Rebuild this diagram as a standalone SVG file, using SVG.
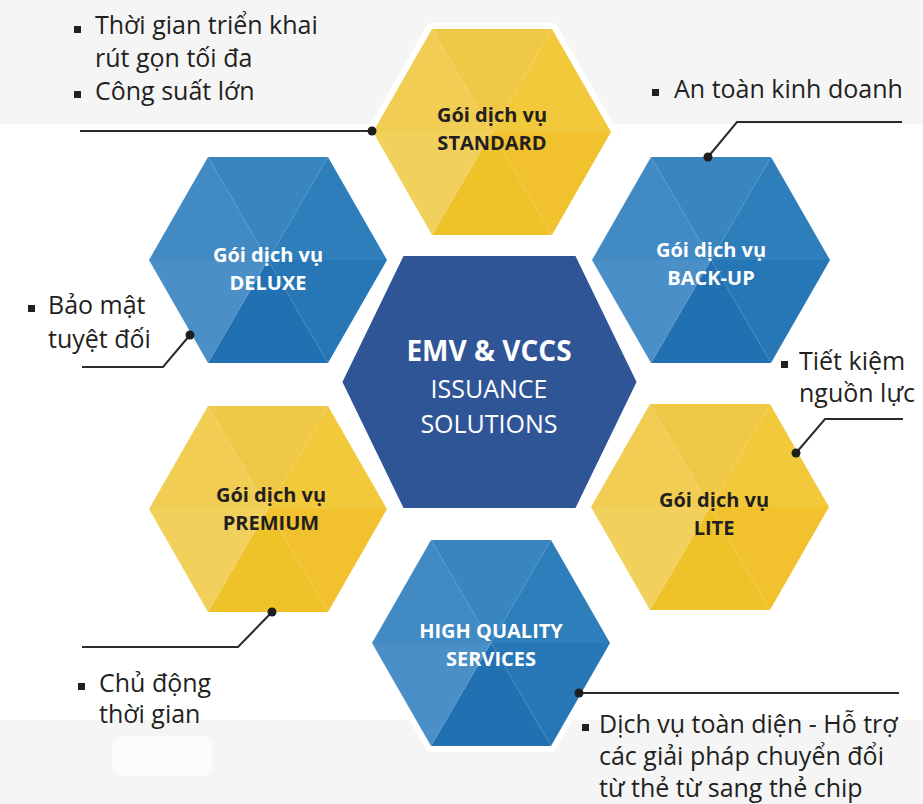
<svg xmlns="http://www.w3.org/2000/svg" xmlns:xlink="http://www.w3.org/1999/xlink" width="923" height="804" viewBox="0 0 923 804">
<style>
.note{font-family:"Open Sans","Noto Sans",sans-serif;font-size:25px;fill:#231f20}
.lbl{font-family:"Open Sans","Noto Sans",sans-serif;font-size:20px;font-weight:700;text-anchor:middle}
.dk{fill:#231f20}
.wt{fill:#ffffff}
.bul{fill:#231f20}
.conn{fill:none;stroke:#2b2b2b;stroke-width:2}
.dot{fill:#1e1e1e}
.halo{fill:#ffffff;stroke:#ffffff;stroke-width:12;stroke-linejoin:round}
</style>
<defs>
<g id="yhex">
<polygon class="halo" points="-119,0 -60,-103 60,-103 119,0 60,103 -60,103"/>
<polygon points="0,0 -119,0 -60,-103" fill="#F1CD54"/>
<polygon points="0,0 -60,-103 60,-103" fill="#F0C847"/>
<polygon points="0,0 60,-103 119,0" fill="#F2C93A"/>
<polygon points="0,0 119,0 60,103" fill="#F1C22D"/>
<polygon points="0,0 60,103 -60,103" fill="#F0C22A"/>
<polygon points="0,0 -60,103 -119,0" fill="#F1D05B"/>
</g>
<g id="bhex">
<polygon class="halo" points="-119,0 -60,-103 60,-103 119,0 60,103 -60,103"/>
<polygon points="0,0 -119,0 -60,-103" fill="#428AC4"/>
<polygon points="0,0 -60,-103 60,-103" fill="#3885C0"/>
<polygon points="0,0 60,-103 119,0" fill="#2E7EBC"/>
<polygon points="0,0 119,0 60,103" fill="#2777B7"/>
<polygon points="0,0 60,103 -60,103" fill="#2070B2"/>
<polygon points="0,0 -60,103 -119,0" fill="#4A8FC7"/>
</g>
</defs>

<rect x="0" y="0" width="923" height="804" fill="#ffffff"/>
<rect x="0" y="0" width="923" height="124" fill="#F5F5F5"/>
<rect x="0" y="720" width="923" height="84" fill="#F5F5F5"/>
<rect x="112" y="736" width="100" height="40" rx="8" fill="#ffffff" opacity="0.6"/>

<g id="center">
<polygon points="401,252 578,252 641,382 578,512 401,512 338,382" fill="#2F5597" stroke="#ffffff" stroke-width="8" stroke-linejoin="round"/>
<text x="489" y="361" font-family="'Open Sans','Noto Sans',sans-serif" font-size="28" font-weight="700" fill="#ffffff" text-anchor="middle">EMV &amp; VCCS</text>
<text x="489" y="398" font-family="'Open Sans','Noto Sans',sans-serif" font-size="25" fill="#ffffff" text-anchor="middle">ISSUANCE</text>
<text x="489" y="433" font-family="'Open Sans','Noto Sans',sans-serif" font-size="25" fill="#ffffff" text-anchor="middle">SOLUTIONS</text>
</g>

<g id="standard">
<use xlink:href="#yhex" href="#yhex" x="492" y="132"/>
<text class="lbl dk" x="492" y="122">Gói dịch vụ</text>
<text class="lbl dk" x="492" y="150">STANDARD</text>
</g>

<g id="deluxe">
<use xlink:href="#bhex" href="#bhex" x="268" y="260"/>
<text class="lbl wt" x="268" y="262">Gói dịch vụ</text>
<text class="lbl wt" x="268" y="290">DELUXE</text>
</g>

<g id="backup">
<use xlink:href="#bhex" href="#bhex" x="711" y="260"/>
<text class="lbl wt" x="711" y="257">Gói dịch vụ</text>
<text class="lbl wt" x="711" y="285">BACK-UP</text>
</g>

<g id="lite">
<use xlink:href="#yhex" href="#yhex" x="710" y="507"/>
<text class="lbl dk" x="714" y="507">Gói dịch vụ</text>
<text class="lbl dk" x="714" y="535">LITE</text>
</g>

<g id="premium">
<use xlink:href="#yhex" href="#yhex" x="268" y="509"/>
<text class="lbl dk" x="271" y="502">Gói dịch vụ</text>
<text class="lbl dk" x="271" y="530">PREMIUM</text>
</g>

<g id="hq">
<use xlink:href="#bhex" href="#bhex" x="491" y="643"/>
<text class="lbl wt" x="491" y="638">HIGH QUALITY</text>
<text class="lbl wt" x="491" y="666">SERVICES</text>
</g>

<g id="connectors">
<polyline class="conn" points="80,131 372,131"/>
<circle class="dot" cx="372" cy="131" r="4.5"/>
<polyline class="conn" points="708,157 737,122 902,122"/>
<circle class="dot" cx="708" cy="157" r="4.5"/>
<polyline class="conn" points="796,453 825,419 903,419"/>
<circle class="dot" cx="796" cy="453" r="4.5"/>
<polyline class="conn" points="190,335 163,367 82,367"/>
<circle class="dot" cx="190" cy="335" r="4.5"/>
<polyline class="conn" points="272,612 238,647 82,647"/>
<circle class="dot" cx="272" cy="612" r="4.5"/>
<polyline class="conn" points="579,693 899,693"/>
<circle class="dot" cx="579" cy="693" r="4.5"/>
</g>

<g id="note-standard">
<rect class="bul" x="74" y="26" width="7" height="7"/>
<text class="note" x="95" y="34">Thời gian triển khai</text>
<text class="note" x="95" y="67">rút gọn tối đa</text>
<rect class="bul" x="74" y="91" width="7" height="7"/>
<text class="note" x="95" y="100">Công suất lớn</text>
</g>

<g id="note-backup">
<rect class="bul" x="652" y="89" width="7" height="7"/>
<text class="note" x="674" y="98">An toàn kinh doanh</text>
</g>

<g id="note-lite">
<rect class="bul" x="781" y="361" width="7" height="7"/>
<text class="note" x="799" y="370">Tiết kiệm</text>
<text class="note" x="799" y="402">nguồn lực</text>
</g>

<g id="note-deluxe">
<rect class="bul" x="28" y="305" width="7" height="7"/>
<text class="note" x="48" y="314">Bảo mật</text>
<text class="note" x="48" y="348">tuyệt đối</text>
</g>

<g id="note-premium">
<rect class="bul" x="78" y="683" width="7" height="7"/>
<text class="note" x="99" y="692">Chủ động</text>
<text class="note" x="99" y="723">thời gian</text>
</g>

<g id="note-hq">
<rect class="bul" x="582" y="724" width="7" height="7"/>
<text class="note" x="599" y="733">Dịch vụ toàn diện - Hỗ trợ</text>
<text class="note" x="599" y="765">các giải pháp chuyển đổi</text>
<text class="note" x="599" y="797">từ thẻ từ sang thẻ chip</text>
</g>
</svg>
